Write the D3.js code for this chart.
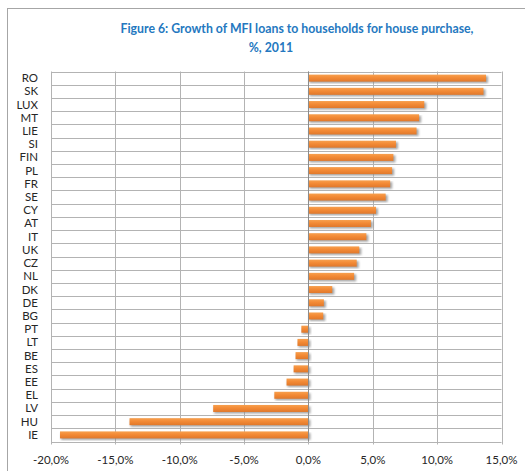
<!DOCTYPE html>
<html>
<head>
<meta charset="utf-8">
<script src="https://cdn.jsdelivr.net/npm/d3@7"></script>
<style>
  body { margin: 0; background: #fff; }
  svg text { font-family: Lato, "Open Sans", sans-serif; }
</style>
</head>
<body>
<script>
// countries, top to bottom
var countries = ['RO', 'SK', 'LUX', 'MT', 'LIE', 'SI', 'FIN', 'PL', 'FR', 'SE',
  'CY', 'AT', 'IT', 'UK', 'CZ', 'NL', 'DK', 'DE', 'BG', 'PT',
  'LT', 'BE', 'ES', 'EE', 'EL', 'LV', 'HU', 'IE'];
// growth in %
var growth = [13.8, 13.6, 9.0, 8.6, 8.4, 6.8, 6.6, 6.5, 6.35, 6.0,
  5.25, 4.85, 4.5, 3.95, 3.75, 3.55, 1.85, 1.2, 1.15, -0.55,
  -0.85, -1.0, -1.15, -1.7, -2.65, -7.4, -13.9, -19.3];
var xTicks = [-20, -15, -10, -5, 0, 5, 10, 15];

var data = countries.map(function(c, i) { return {name: c, v: growth[i]}; });

var W = 525, H = 471;
var plot = {left: 51, right: 501.5, top: 71.5, bottom: 441.5};

var svg = d3.select('body').append('svg')
    .attr('width', W)
    .attr('height', H);

// outer chart frame
svg.append('rect')
    .attr('x', 7.5).attr('y', 8.5)
    .attr('width', 540).attr('height', 480)
    .attr('fill', '#fff')
    .attr('stroke', '#a6a6a6');

var defs = svg.append('defs');
var grad = defs.append('linearGradient')
    .attr('id', 'barGrad')
    .attr('x1', 0).attr('y1', 0).attr('x2', 0).attr('y2', 1);
grad.append('stop').attr('offset', '0%').attr('stop-color', '#f7a04f');
grad.append('stop').attr('offset', '45%').attr('stop-color', '#f38a35');
grad.append('stop').attr('offset', '100%').attr('stop-color', '#e0782b');
defs.append('filter').attr('id', 'blur')
  .append('feGaussianBlur').attr('stdDeviation', 0.9);

var x = d3.scaleLinear()
    .domain([-20, 15])
    .range([plot.left, plot.right]);
var y = d3.scaleBand()
    .domain(countries)
    .range([plot.top, plot.bottom]);

// title
svg.append('text')
    .attr('x', 297).attr('y', 33)
    .attr('text-anchor', 'middle')
    .attr('font-size', 12.3)
    .attr('font-weight', 'bold')
    .attr('fill', '#2478c0')
    .text('Figure 6: Growth of MFI loans to households for house purchase,');
svg.append('text')
    .attr('x', 271).attr('y', 52)
    .attr('text-anchor', 'middle')
    .attr('font-size', 12.3)
    .attr('font-weight', 'bold')
    .attr('fill', '#2478c0')
    .text('%, 2011');

// vertical gridlines
svg.append('g')
  .selectAll('line')
    .data(xTicks)
    .enter()
  .append('line')
    .attr('x1', function(d) { return Math.round(x(d)) + 0.5; })
    .attr('x2', function(d) { return Math.round(x(d)) + 0.5; })
    .attr('y1', plot.top)
    .attr('y2', plot.bottom + 3)
    .attr('stroke', '#b3b3b3');

// horizontal gridlines at band edges
var edges = countries.map(function(c) { return y(c); }).concat([plot.bottom]);
svg.append('g')
  .selectAll('line')
    .data(edges)
    .enter()
  .append('line')
    .attr('x1', plot.left)
    .attr('x2', plot.right)
    .attr('y1', function(d) { return Math.round(d) + 0.5; })
    .attr('y2', function(d) { return Math.round(d) + 0.5; })
    .attr('stroke', '#b3b3b3');

// bars with shadow
var barH = 7;
var bars = svg.append('g');
bars.selectAll('rect.shadow')
    .data(data)
    .enter()
  .append('rect')
    .attr('class', 'shadow')
    .attr('x', function(d) { return Math.min(x(0), x(d.v)) + 1; })
    .attr('y', function(d) { return y(d.name) + y.bandwidth() / 2 - barH / 2 + 1.5; })
    .attr('width', function(d) { return Math.abs(x(d.v) - x(0)) + 1; })
    .attr('height', barH)
    .attr('fill', '#8c8c8c')
    .attr('opacity', 0.8)
    .attr('filter', 'url(#blur)');
bars.selectAll('rect.bar')
    .data(data)
    .enter()
  .append('rect')
    .attr('class', 'bar')
    .attr('x', function(d) { return Math.min(x(0), x(d.v)); })
    .attr('y', function(d) { return y(d.name) + y.bandwidth() / 2 - barH / 2; })
    .attr('width', function(d) { return Math.abs(x(d.v) - x(0)); })
    .attr('height', barH)
    .attr('fill', 'url(#barGrad)');

// zero axis line
svg.append('line')
    .attr('x1', Math.round(x(0)) + 0.5)
    .attr('x2', Math.round(x(0)) + 0.5)
    .attr('y1', plot.top)
    .attr('y2', plot.bottom)
    .attr('stroke', '#8c8c8c');

// category labels
svg.append('g')
  .selectAll('text')
    .data(countries)
    .enter()
  .append('text')
    .attr('x', 38)
    .attr('y', function(d) { return y(d) + y.bandwidth() / 2; })
    .attr('dy', '0.35em')
    .attr('text-anchor', 'end')
    .attr('font-size', 11.5)
    .attr('fill', '#262626')
    .text(function(d) { return d; });

// x axis labels
var fmt = function(d) { return d3.format('.1f')(d).replace('.', ',').replace('−', '-') + '%'; };
svg.append('g')
  .selectAll('text')
    .data(xTicks)
    .enter()
  .append('text')
    .attr('x', function(d) { return x(d); })
    .attr('y', 464)
    .attr('text-anchor', 'middle')
    .attr('font-size', 11.5)
    .attr('fill', '#262626')
    .text(fmt);
</script>
</body>
</html>
